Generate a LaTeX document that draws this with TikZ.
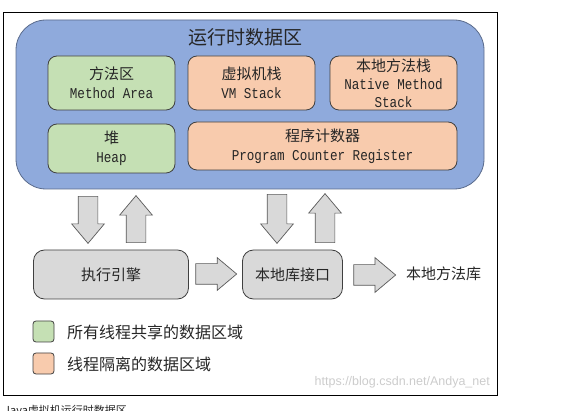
\documentclass[tikz,border=0pt]{standalone}
\usepackage{fontspec}
\setmainfont{Noto Sans CJK SC}
\newfontfamily\monofnt[FakeStretch=0.84]{Liberation Mono}
\newfontfamily\wmfnt{Liberation Sans}
\usetikzlibrary{shapes.arrows}

\begin{document}
\begin{tikzpicture}[x=1pt, y=-1pt,
		areabox/.style={draw=cbox, rounded corners=9pt, line width=0.8pt, inner sep=0pt, align=center,
			font=\fontsize{15}{19}\selectfont, text=ctext},
		sharedbox/.style={areabox, fill=cfshared},
		privbox/.style={areabox, fill=cfpriv},
		enginebox/.style={areabox, fill=cfgray, minimum height=49pt, rounded corners=11pt},
		blockarrow/.style={single arrow, draw=carrow, fill=cfgray, line width=0.7pt,
			single arrow head extend=6.5pt, single arrow tip angle=80},
		harrow/.style={blockarrow, inner xsep=0pt, inner ysep=10pt},
		varrow/.style={blockarrow, inner xsep=9.5pt, inner ysep=0pt},
		legendbox/.style={draw=cbox, rounded corners=3pt, line width=0.8pt, minimum size=21pt, inner sep=0pt},
		legendtext/.style={anchor=west, inner sep=0pt, font=\fontsize{16}{18}\selectfont, text=ctext}]
			\definecolor{cfruntime}{HTML}{8FAADC}
			\definecolor{cruntime}{HTML}{5A6B8C}
			\definecolor{cfshared}{HTML}{C5E0B4}
			\definecolor{cfpriv}{HTML}{F8CBAD}
			\definecolor{cfgray}{HTML}{D9D9D9}
			\definecolor{cbox}{HTML}{404040}
			\definecolor{carrow}{HTML}{595959}
			\definecolor{ctext}{HTML}{262626}
			%
			\useasboundingbox (0,0) rectangle (586,411);
			\node[draw=black, line width=0.9pt, minimum width=494pt, minimum height=383pt, inner sep=0pt] (frame) at (250,203.5) {};
			%
			\node[draw=cruntime, fill=cfruntime, line width=0.8pt, rounded corners=30pt, minimum width=468pt, minimum height=169pt] (runtime) at (250,104.5) {};
			\node[font=\fontsize{19}{21}\selectfont, text=ctext] (title) at (245,37) {运行时数据区};
			%
			\node[sharedbox, minimum width=127pt, minimum height=54pt] (methodarea) at (111.5,83) {方法区\\{\monofnt Method Area}};
			\node[privbox, minimum width=127pt, minimum height=54pt] (vmstack) at (251.5,83) {虚拟机栈\\{\monofnt VM Stack}};
			\node[privbox, minimum width=127pt, minimum height=54pt, font=\fontsize{15}{18}\selectfont] (nativestack) at (393.5,83) {本地方法栈\\{\monofnt Native Method}\\{\monofnt Stack}};
			\node[sharedbox, minimum width=127pt, minimum height=49pt] (heap) at (111.5,148.5) {堆\\{\monofnt Heap}};
			\node[privbox, minimum width=269pt, minimum height=48pt] (pcreg) at (322.5,146) {程序计数器\\{\monofnt Program Counter Register}};
			%
			\node[varrow, minimum height=47pt, shape border rotate=270] (down1) at (88,214) {};
			\node[varrow, minimum height=47pt, shape border rotate=90] (up1) at (136,225) {};
			\node[varrow, minimum height=49pt, shape border rotate=270] (down2) at (277,213) {};
			\node[varrow, minimum height=49pt, shape border rotate=90] (up2) at (325,224) {};
			%
			\node[enginebox, minimum width=155pt] (engine) at (111,274.5) {执行引擎};
			\node[harrow, minimum height=41pt, single arrow head extend=6pt] (right1) at (210,274) {};
			\node[enginebox, minimum width=100pt] (nativeif) at (292.5,274.5) {本地库接口};
			\node[harrow, minimum height=42pt, single arrow head extend=7pt] (right2) at (368.5,275) {};
			\node[font=\fontsize{15}{17}\selectfont, text=ctext] (nativelib) at (443.5,274) {本地方法库};
			%
			\node[legendbox, fill=cfshared] (legshared) at (43.5,331.5) {};
			\node[legendtext] (legsharedtext) at (67,332) {所有线程共享的数据区域};
			\node[legendbox, fill=cfpriv] (legpriv) at (43.5,363.5) {};
			\node[legendtext] (legprivtext) at (67,364) {线程隔离的数据区域};
			%
			\node[anchor=east, inner sep=0pt, text=black!20, font=\wmfnt\fontsize{12.5}{14}\selectfont] (watermark) at (490,382) {https://blog.csdn.net/Andya\_net};
			\node[anchor=north west, inner sep=0pt, text=black!85, font=\fontsize{11}{13}\selectfont] (caption) at (4,405) {Java虚拟机运行时数据区};
			%
		\end{tikzpicture}
\end{document}
